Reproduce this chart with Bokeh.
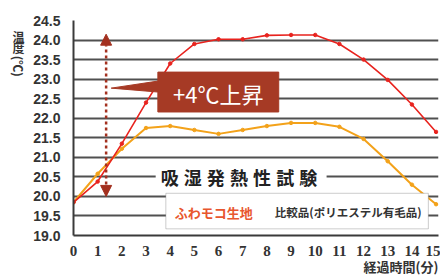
import numpy as np
from bokeh.plotting import figure
from bokeh.layouts import row, column
from bokeh.models import (Label, Arrow, NormalHead, BoxAnnotation, FixedTicker, Range1d, ColumnDataSource,
                          CustomJSTickFormatter)
from bokeh.core.properties import value
from bokeh.embed import file_html
from bokeh.resources import INLINE

# ---- data ----
minutes = list(range(0, 16))
fuwamoko = [19.85, 20.38, 21.35, 22.4, 23.4, 23.9, 24.02, 24.02, 24.12, 24.13, 24.13, 23.9, 23.5, 22.98, 22.35, 21.65]
hikaku = [19.85, 20.58, 21.22, 21.75, 21.8, 21.7, 21.6, 21.7, 21.8, 21.88, 21.88, 21.78, 21.47, 20.9, 20.3, 19.8]
y_ticks = [19.0, 19.5, 20.0, 20.5, 21.0, 21.5, 22.0, 22.5, 23.0, 23.5, 24.0, 24.5]
x_ticks = minutes
series_names = ["ふわモコ生地", "比較品(ポリエステル有毛品)"]
title_text = "吸湿発熱性試験"
callout_text = "+4℃上昇"
y_title = ["温", "度", "(℃)"]
x_title = "経過時間(分)"

RED = "#e8231e"
ORANGE = "#f3a21a"
DARK_RED = "#a3301f"
GRID = "#505050"
TXT = "#333333"


def strip(w, h):
    f = figure(width=w, height=h, output_backend="svg", toolbar_location=None, title_location=None,
               x_range=Range1d(0, w), y_range=Range1d(0, h),
               x_axis_location=None, y_axis_location=None,
               min_border_left=0, min_border_right=0, min_border_top=0, min_border_bottom=0)
    f.grid.visible = False
    f.outline_line_color = None
    f.border_fill_color = "white"
    f.background_fill_color = "white"
    return f


# ---- side strip holding the stacked y-axis title (y measured from the strip's bottom) ----
side = strip(30, 258)
side.text(x=[18, 18], y=[258 - 19, 258 - 32], text=y_title[:2], text_align="center", text_baseline="middle",
          text_font=value("Noto Sans CJK JP"), text_font_style="bold", text_font_size="12px", text_color=TXT)
side.text(x=[18], y=[258 - 55], text=y_title[2:], angle=-np.pi / 2, text_align="center", text_baseline="middle",
          text_font=value("Noto Sans CJK JP"), text_font_style="bold", text_font_size="12px", text_color=TXT)

# ---- bottom strip holding the x-axis title ----
bottom = strip(440, 19)
bottom.text(x=[363], y=[11], text=[x_title], text_align="left", text_baseline="middle",
            text_font=value("Noto Sans CJK JP"), text_font_style="bold", text_font_size="13px", text_color=TXT)

# ---- main chart ----
p = figure(width=410, height=258, output_backend="svg", toolbar_location=None, title_location=None,
           x_range=Range1d(0, 15.1), y_range=Range1d(19.0, 24.5),
           min_border_left=40, min_border_right=2, min_border_top=20, min_border_bottom=22)
p.outline_line_color = None
p.background_fill_color = "white"
p.border_fill_color = "white"

p.xaxis.ticker = FixedTicker(ticks=x_ticks)
p.yaxis.ticker = FixedTicker(ticks=y_ticks)
p.yaxis.formatter = CustomJSTickFormatter(code="return tick.toFixed(1);")
for ax in (p.xaxis, p.yaxis):
    ax.major_tick_line_color = None
    ax.minor_tick_line_color = None
    ax.axis_line_color = "#3a3a3a"
    ax.axis_line_width = 2
    ax.major_label_text_color = TXT
    ax.major_label_text_font_style = "bold"
p.yaxis.major_label_text_font = "Liberation Sans"
p.yaxis.major_label_text_font_size = "14px"
p.yaxis.major_label_standoff = 7
p.xaxis.major_label_text_font = "Liberation Sans Narrow"
p.xaxis.major_label_text_font_size = "15px"
p.xaxis.major_label_standoff = 4

p.xgrid.grid_line_color = None
p.ygrid.ticker = FixedTicker(ticks=y_ticks)
p.ygrid.grid_line_color = GRID
p.ygrid.grid_line_width = 1.8

# white background behind the chart title
p.add_layout(BoxAnnotation(left=3.4, right=10.47, bottom=20.3, top=20.7,
                           fill_color="white", fill_alpha=1, line_color=None, level="underlay"))

n = len(title_text)
tx = 3.98 + np.arange(n) * 0.955
p.text(x=tx, y=[20.5] * n, text=list(title_text), text_align="center", text_baseline="middle",
       text_font=value("Noto Sans CJK JP"), text_font_style="bold", text_font_size="18px",
       text_color="#222222")

# data lines
src = ColumnDataSource(dict(x=minutes, a=fuwamoko, b=hikaku))
p.line("x", "b", source=src, color=ORANGE, line_width=2)
p.scatter("x", "b", source=src, color=ORANGE, size=3.5)
p.line("x", "a", source=src, color=RED, line_width=1.6)
p.scatter("x", "a", source=src, color=RED, size=3.5)

# legend box
p.add_layout(BoxAnnotation(left=3.82, right=14.68, bottom=19.17, top=20.08,
                           fill_color="white", fill_alpha=1, line_color="#555555", line_width=1))
p.segment(x0=[4.19], y0=[19.89], x1=[5.74], y1=[19.89], line_color=RED, line_width=2.5)
p.segment(x0=[8.33], y0=[19.89], x1=[9.93], y1=[19.89], line_color=ORANGE, line_width=2.5)
p.add_layout(Label(x=4.19, y=19.59, text=series_names[0], text_align="left", text_baseline="middle",
                   text_font="Noto Sans CJK JP", text_font_style="bold", text_font_size="13px",
                   text_color="#e8562e"))
p.add_layout(Label(x=8.33, y=19.59, text=series_names[1], text_align="left", text_baseline="middle",
                   text_font="Noto Sans CJK JP", text_font_style="bold", text_font_size="11.5px",
                   text_color=TXT))

# double arrow
p.add_layout(Arrow(x_start=1.35, y_start=20.0, x_end=1.35, y_end=24.15,
                   line_color=DARK_RED, line_width=2.5, line_dash="3 3",
                   start=NormalHead(size=11, fill_color=DARK_RED, line_color=DARK_RED),
                   end=NormalHead(size=11, fill_color=DARK_RED, line_color=DARK_RED)))

# callout
p.patch(x=[3.49, 8.49, 8.49, 3.49, 3.49, 1.56, 3.49],
        y=[23.18, 23.18, 22.16, 22.16, 22.67, 22.77, 22.95],
        fill_color="#a63a25", line_color="#a63a25")
p.add_layout(Label(x=5.99, y=22.64, text=callout_text, text_align="center", text_baseline="middle",
                   text_font="Noto Sans CJK JP", text_font_size="22px", text_color="white"))

layout = column(row(side, p, spacing=0), bottom, spacing=0)
open("out.html", "w").write(file_html(layout, INLINE))
